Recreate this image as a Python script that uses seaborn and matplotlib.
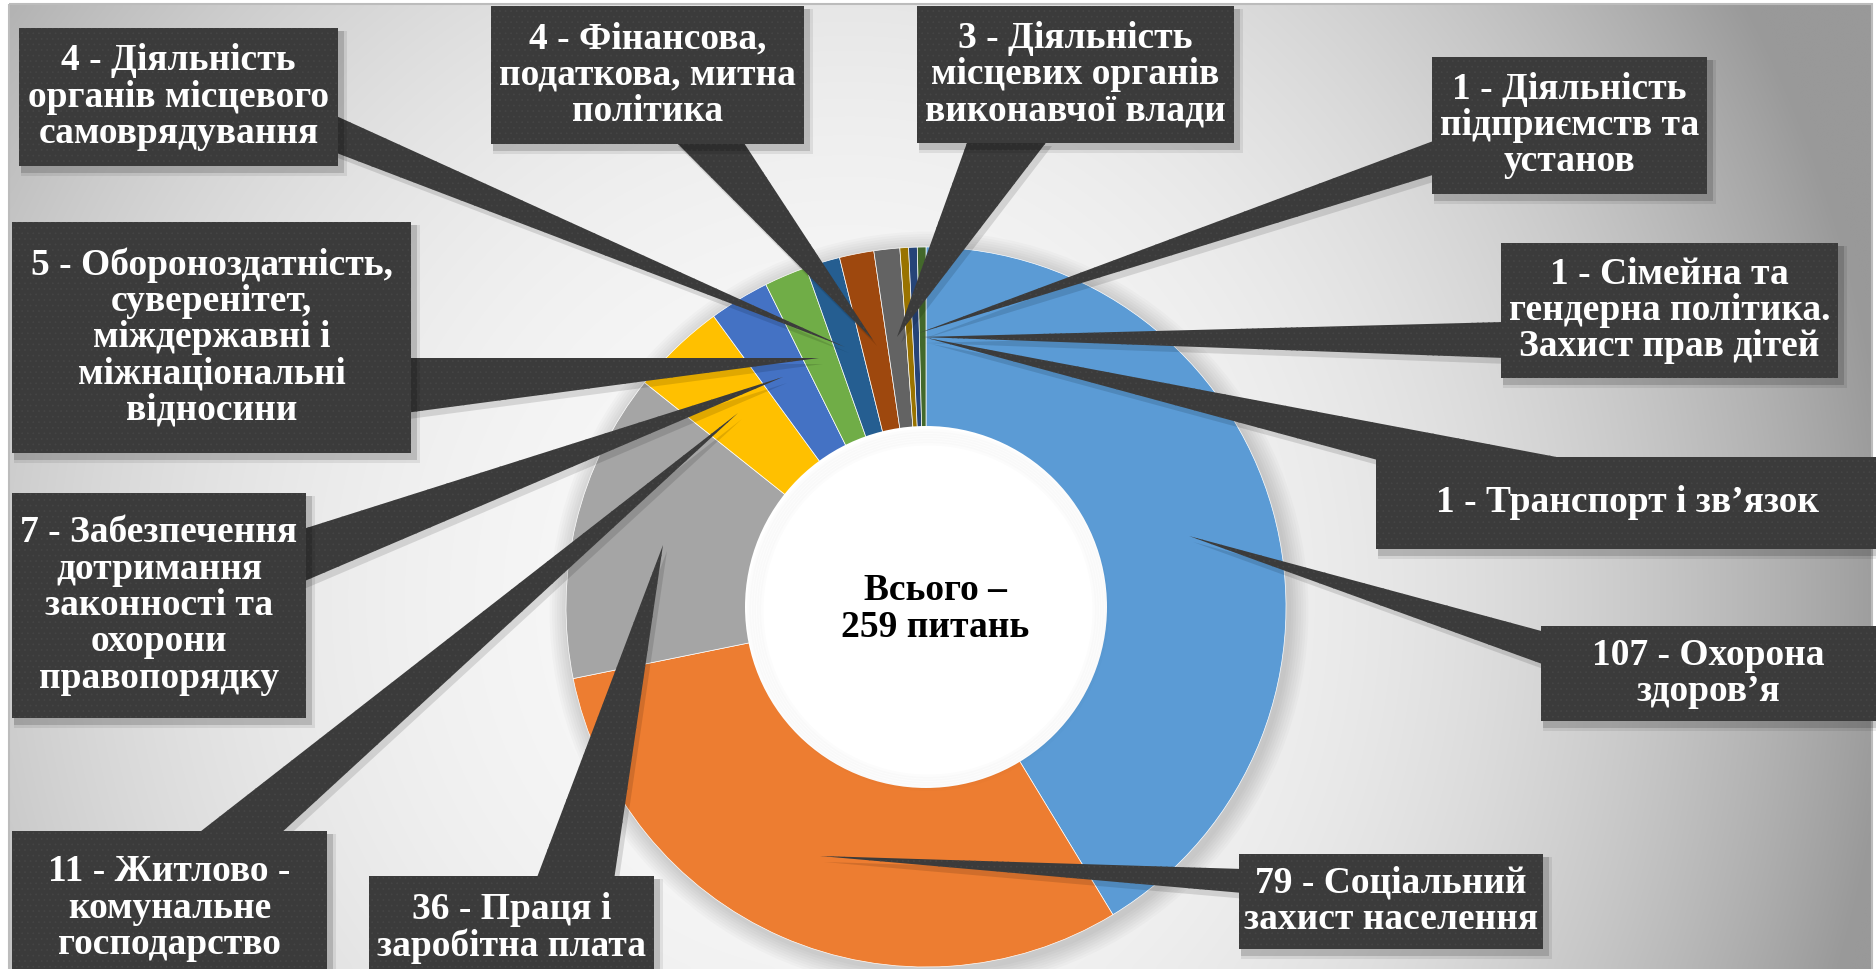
import numpy as np
import seaborn as sns
import matplotlib.pyplot as plt
from matplotlib import font_manager
from matplotlib.patches import Rectangle, Polygon, Circle

# data: questions by topic (pie order, clockwise from 12 o'clock)
values = [107, 79, 36, 11, 7, 5, 4, 4, 3, 1, 1, 1]
names = [
    "Охорона\nздоров’я",
    "Соціальний\nзахист населення",
    "Праця і\nзаробітна плата",
    "Житлово -\nкомунальне\nгосподарство",
    "Забезпечення\nдотримання\nзаконності та\nохорони\nправопорядку",
    "Обороноздатність,\nсуверенітет,\nміждержавні і\nміжнаціональні\nвідносини",
    "Діяльність\nорганів місцевого\nсамоврядування",
    "Фінансова,\nподаткова, митна\nполітика",
    "Діяльність\nмісцевих органів\nвиконавчої влади",
    "Діяльність\nпідприємств та\nустанов",
    "Сімейна та\nгендерна політика.\nЗахист прав дітей",
    "Транспорт і зв’язок",
]
center_text = "Всього –\n259 питань"
colors = sns.color_palette(["#5B9BD5", "#ED7D31", "#A5A5A5", "#FFC000", "#4472C4", "#70AD47",
                            "#255E91", "#9E480E", "#636363", "#997300", "#264478", "#43682B"])

# layout (pixels): label boxes and callout pointers, same order as data
boxes = [(1541, 626, 1876, 721), (1239, 854, 1543, 949), (369, 876, 654, 980),
         (12, 831, 327, 985), (12, 493, 306, 718), (12, 222, 411, 453),
         (19, 28, 338, 166), (491, 6, 804, 144), (917, 6, 1234, 143),
         (1432, 57, 1707, 194), (1501, 243, 1838, 378), (1376, 457, 1880, 549)]
pointers = [((1545, 632), (1545, 665), (1189, 536)),
            ((1243, 869), (1243, 893), (820, 856)),
            ((536, 880), (614, 880), (663, 545)),
            ((196, 835), (279, 835), (738, 413)),
            ((300, 530), (300, 583), (783, 377)),
            ((405, 358), (405, 413), (819, 358)),
            ((334, 115), (334, 152), (845, 347)),
            ((674, 140), (742, 140), (873, 340)),
            ((968, 140), (1048, 140), (897, 337)),
            ((1436, 140), (1436, 174), (919, 333)),
            ((1505, 322), (1505, 358), (921, 337)),
            ((1385, 462), (1583, 462), (927, 338))]

W, H = 1876, 969
sns.set_theme(style="white")
installed = {f.name for f in font_manager.fontManager.ttflist}
serif = [n for n in ["Liberation Serif", "Times New Roman", "Noto Serif", "DejaVu Serif"] if n in installed]
plt.rcParams['font.family'] = serif[:1] + ['DejaVu Serif']
plt.rcParams['hatch.linewidth'] = 0.5

fig = plt.figure(figsize=(W / 100, H / 100), dpi=100, facecolor="white")
ax = fig.add_axes([0, 0, 1, 1])

# background gradient inside frame
gx, gy = np.meshgrid(np.linspace(9, 1872, 380), np.linspace(4, 969, 200))
rx = np.where(gx > 850, 1030, 1150)
d = np.sqrt(((gx - 850) / rx) ** 2 + ((gy - 600) / 1150) ** 2)
b = np.clip(0.975 - 0.36 * d ** 2.5, 0.6, 0.975)
ax.imshow(np.dstack([b, b, b]), extent=(9, 1872, 969, 4), interpolation="bicubic", zorder=0)
ax.add_patch(Rectangle((9, 4), 1863, 970, fill=False, edgecolor="#bcbcbc", lw=1.5, zorder=1))

# pie shadow
cx, cy, R, r_in = 926, 607, 360, 181
for i in range(8):
    ax.add_patch(Circle((cx + 3, cy + 4), R + 2 + i * 2.5, color="black", alpha=0.02, lw=0, zorder=2))

ax.pie(values, colors=colors, startangle=-90, counterclock=True, radius=R, center=(cx, cy),
       frame=True, wedgeprops=dict(edgecolor="white", linewidth=0.5, zorder=3))

# hole with soft inner shadow
ax.add_patch(Circle((cx, cy), r_in, color="white", lw=0, zorder=4))
for i in range(6):
    ax.add_patch(Circle((cx + 2, cy + 3), r_in - 2 - i * 2.5, fill=False, edgecolor="black",
                        alpha=0.012, lw=3, zorder=4))
ax.text(cx + 9, cy + 2, center_text, ha="center", va="center", fontsize=27,
        fontweight="bold", color="black", linespacing=1.05, zorder=5)

dark = "#3b3b3b"
for (p1, p2, tip) in pointers:
    sh = [(x + 4, y + 6) for x, y in (p1, p2, tip)]
    ax.add_patch(Polygon(sh, closed=True, color="black", alpha=0.12, lw=0, zorder=6))
    ax.add_patch(Polygon([p1, p2, tip], closed=True, facecolor=dark, edgecolor="#454545",
                         lw=0, hatch="...", zorder=7))

for (x0, y0, x1, y1), v, n in zip(boxes, values, names):
    for k, a in ((7, 0.08), (4, 0.15)):
        ax.add_patch(Rectangle((x0 + 2, y0 + 3), x1 - x0 + k, y1 - y0 + k, color="black",
                               alpha=a, lw=0, zorder=8))
    ax.add_patch(Rectangle((x0, y0), x1 - x0, y1 - y0, facecolor=dark, edgecolor="#454545",
                           lw=0, hatch="...", zorder=9))
    ax.text((x0 + x1) / 2, (y0 + y1) / 2, f"{v} - {n}", ha="center", va="center",
            fontsize=27, fontweight="bold", color="white", linespacing=1.05, zorder=10)

ax.set_aspect("auto")
ax.set_xlim(0, W)
ax.set_ylim(H, 0)
ax.axis("off")
fig.savefig("out.png", dpi=100, facecolor="white")
